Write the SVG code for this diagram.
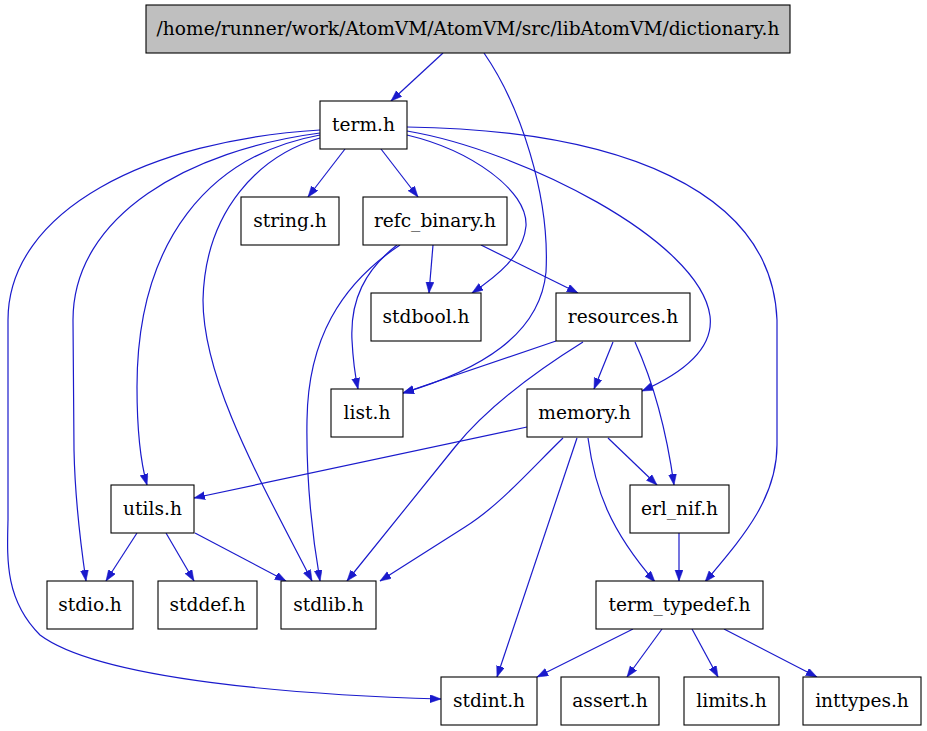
<svg xmlns="http://www.w3.org/2000/svg" width="927" height="731" viewBox="0 0 927 731">
<style>
.n rect{fill:#fff;stroke:#000;stroke-width:1.1}
.n.root rect{fill:#bfbfbf}
.n text{font-family:"DejaVu Serif",serif;font-size:18.6px;text-anchor:middle;fill:#000}
#edges path{fill:none;stroke:#1a1acc;stroke-width:1.2;marker-end:url(#arr)}
</style>
<defs>
<marker id="arr" markerUnits="userSpaceOnUse" markerWidth="12" markerHeight="9" refX="11" refY="4" orient="auto">
<path d="M0,0 L11,4 L0,8 z" fill="#1a1acc" stroke="#1a1acc" stroke-width="0.5"/>
</marker>
</defs>
<rect width="927" height="731" fill="#fff"/>
<g id="edges">
<path d="M443,53 L391,101"/>
<path d="M484,53 C520,105 550,195 546,272 C540,335 480,370 403,393"/>
<path d="M345,149 L308,197"/>
<path d="M381,149 L418,197"/>
<path d="M407,135 C470,150 528,190 526,226 C523,256 497,276 472,293"/>
<path d="M407,131 C520,150 700,240 710,316 C714,348 685,372 642,391"/>
<path d="M407,127 C620,130 772,190 777,320 L777,445 C777,500 740,540 705,582"/>
<path d="M320,138 C260,155 205,210 203,300 C203,380 260,480 312,581"/>
<path d="M320,135 C210,155 137,240 137,387 C137,430 140,460 147,485"/>
<path d="M320,133 C190,150 73,215 73,320 L74,450 C75,500 80,540 86,581"/>
<path d="M320,130 C150,140 8,210 8,320 L8,520 C7,560 5,600 40,635 C100,680 300,695 441,699"/>
<path d="M433,245 L429,293"/>
<path d="M481,245 L578,293"/>
<path d="M397,245 C365,270 350,300 352,340 C353,360 355,375 358,389"/>
<path d="M400,245 C340,285 308,340 307,420 C306,480 313,540 320,581"/>
<path d="M556,341 L403,393"/>
<path d="M583,342 C530,375 485,410 455,447 L347,581"/>
<path d="M613,342 L594,389"/>
<path d="M635,342 C650,375 665,420 674,485"/>
<path d="M527,427 L194,498"/>
<path d="M563,438 C530,470 500,505 465,527 L380,581"/>
<path d="M577,438 L497,677"/>
<path d="M588,438 C595,490 610,530 655,582"/>
<path d="M608,438 L657,485"/>
<path d="M679,533 L679,581"/>
<path d="M137,533 L106,581"/>
<path d="M166,533 L194,581"/>
<path d="M195,533 L286,581"/>
<path d="M633,629 L537,677"/>
<path d="M662,629 L627,677"/>
<path d="M692,629 L718,677"/>
<path d="M724,629 L817,677"/>
</g>
<g id="root" class="n root"><rect x="146" y="5" width="644" height="48"/><text x="468" y="35">/home/runner/work/AtomVM/AtomVM/src/libAtomVM/dictionary.h</text></g>
<g id="term" class="n"><rect x="320" y="101" width="87" height="48"/><text x="363.5" y="131">term.h</text></g>
<g id="string" class="n"><rect x="241" y="197" width="98" height="48"/><text x="290" y="227">string.h</text></g>
<g id="refc_binary" class="n"><rect x="363" y="197" width="144" height="48"/><text x="435" y="227">refc_binary.h</text></g>
<g id="stdbool" class="n"><rect x="371" y="293" width="110" height="48"/><text x="426" y="323">stdbool.h</text></g>
<g id="resources" class="n"><rect x="556" y="293" width="134" height="48"/><text x="623" y="323">resources.h</text></g>
<g id="list" class="n"><rect x="331" y="389" width="72" height="48"/><text x="367" y="419">list.h</text></g>
<g id="memory" class="n"><rect x="527" y="389" width="115" height="48"/><text x="584.5" y="419">memory.h</text></g>
<g id="utils" class="n"><rect x="111" y="485" width="83" height="48"/><text x="152.5" y="515">utils.h</text></g>
<g id="erl_nif" class="n"><rect x="630" y="485" width="99" height="48"/><text x="679.5" y="515">erl_nif.h</text></g>
<g id="stdio" class="n"><rect x="47" y="581" width="86" height="48"/><text x="90" y="611">stdio.h</text></g>
<g id="stddef" class="n"><rect x="158" y="581" width="99" height="48"/><text x="207.5" y="611">stddef.h</text></g>
<g id="stdlib" class="n"><rect x="281" y="581" width="95" height="48"/><text x="328.5" y="611">stdlib.h</text></g>
<g id="term_typedef" class="n"><rect x="596" y="581" width="167" height="48"/><text x="679.5" y="611">term_typedef.h</text></g>
<g id="stdint" class="n"><rect x="441" y="677" width="96" height="48"/><text x="489" y="707">stdint.h</text></g>
<g id="assert" class="n"><rect x="561" y="677" width="98" height="48"/><text x="610" y="707">assert.h</text></g>
<g id="limits" class="n"><rect x="684" y="677" width="95" height="48"/><text x="731.5" y="707">limits.h</text></g>
<g id="inttypes" class="n"><rect x="803" y="677" width="118" height="48"/><text x="862" y="707">inttypes.h</text></g>
</svg>
